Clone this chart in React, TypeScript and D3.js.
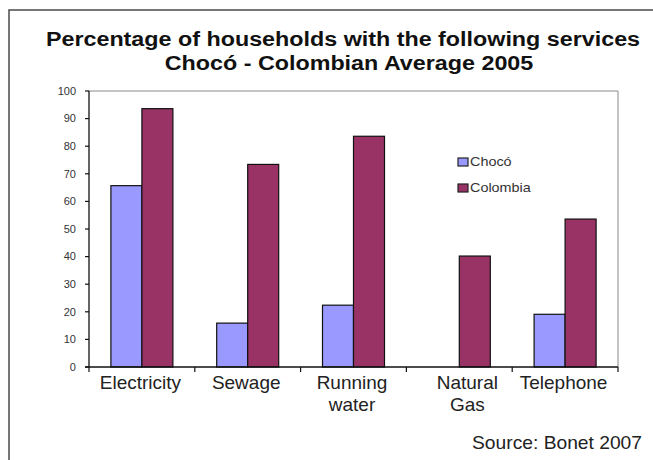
import React from "react";
import * as d3 from "d3";

const categories: string[][] = [
  ["Electricity"],
  ["Sewage"],
  ["Running", "water"],
  ["Natural", "Gas"],
  ["Telephone"],
];
const seriesNames = ["Chocó", "Colombia"];
const chocoValues = [65.7, 15.9, 22.4, 0, 19.1];
const colombiaValues = [93.6, 73.4, 83.6, 40.2, 53.6];
const yTicks = [0, 10, 20, 30, 40, 50, 60, 70, 80, 90, 100];
const titleLines = [
  "Percentage of households with the following services",
  "Chocó - Colombian Average 2005",
];
const sourceText = "Source: Bonet 2007";

const colors = ["#9999FF", "#993366"];
const FONT = "'Liberation Sans', Arial, Helvetica, sans-serif";

export default function App() {
  const W = 653;
  const H = 460;
  const left = 89;
  const right = 618;
  const top = 91;
  const bottom = 367;

  const keys = categories.map((c) => c.join(" "));
  const x0 = d3.scaleBand<string>().domain(keys).range([left, right]).padding(0);
  const bw = x0.bandwidth();
  const groupW = 62;
  const x1 = d3
    .scaleBand<string>()
    .domain(seriesNames)
    .range([(bw - groupW) / 2, (bw + groupW) / 2])
    .padding(0);
  const y = d3.scaleLinear().domain([0, 100]).range([bottom, top]);

  const series = [chocoValues, colombiaValues];

  const boundaries = [left, ...keys.map((k) => (x0(k) as number) + bw)];

  return (
    <svg
      width={W}
      height={H}
      style={{ position: "absolute", left: 0, top: 0, background: "#fff" }}
      fontFamily={FONT}
    >
      <rect x={0} y={0} width={W} height={H} fill="#fff" />
      {/* outer frame */}
      <rect x={9} y={10} width={800} height={800} fill="none" stroke="#555" strokeWidth={1.6} />

      {/* title */}
      {titleLines.map((t, i) => (
        <text
          key={i}
          transform={`translate(${i === 0 ? 343 : 349},${i === 0 ? 46 : 70}) scale(1.11,1)`}
          textAnchor="middle"
          fontSize={21}
          fontWeight="bold"
          fill="#111"
        >
          {t}
        </text>
      ))}

      {/* plot area border (top/right gray) */}
      <line x1={left} x2={right} y1={top} y2={top} stroke="#8a8a8a" strokeWidth={1} />
      <line x1={right} x2={right} y1={top} y2={bottom} stroke="#8a8a8a" strokeWidth={1} />

      {/* bars */}
      {series.map((vals, si) =>
        vals.map((v, ci) =>
          v > 0 ? (
            <rect
              key={`${si}-${ci}`}
              x={(x0(keys[ci]) as number) + (x1(seriesNames[si]) as number)}
              y={y(v)}
              width={x1.bandwidth()}
              height={y(0) - y(v)}
              fill={colors[si]}
              stroke="#111"
              strokeWidth={1.2}
            />
          ) : null
        )
      )}

      {/* y axis */}
      <line x1={left} x2={left} y1={top} y2={bottom} stroke="#111" strokeWidth={1.3} />
      {yTicks.map((t) => (
        <g key={t}>
          <line x1={left - 4} x2={left} y1={y(t)} y2={y(t)} stroke="#111" strokeWidth={1.2} />
          <text
            transform={`translate(76,${y(t) + 3.8}) scale(1.05,1)`}
            textAnchor="end"
            fontSize={10.5}
            fill="#333"
          >
            {t}
          </text>
        </g>
      ))}

      {/* x axis */}
      <line x1={left - 4} x2={right} y1={bottom} y2={bottom} stroke="#111" strokeWidth={1.3} />
      {boundaries.map((b, i) => (
        <line key={i} x1={b} x2={b} y1={bottom} y2={bottom + 5} stroke="#111" strokeWidth={1.2} />
      ))}
      {categories.map((lines, ci) =>
        lines.map((ln, li) => (
          <text
            key={`${ci}-${li}`}
            transform={`translate(${(x0(keys[ci]) as number) + bw / 2 + (ci === 3 ? 8 : -1.5)},${389 + li * 22}) scale(1.055,1)`}
            textAnchor="middle"
            fontSize={18}
            fill="#222"
          >
            {ln}
          </text>
        ))
      )}

      {/* legend */}
      {seriesNames.map((s, i) => (
        <g key={s}>
          <rect x={458} y={158 + i * 26} width={10} height={8} fill={colors[i]} stroke="#222" strokeWidth={1.2} />
          <text
            transform={`translate(470,${166 + i * 25.5}) scale(1.2,1)`}
            fontSize={12}
            fill="#333"
          >
            {s}
          </text>
        </g>
      ))}

      {/* source */}
      <text transform={`translate(642,449) scale(1.1,1)`} textAnchor="end" fontSize={17.5} fill="#222">
        {sourceText}
      </text>
    </svg>
  );
}
